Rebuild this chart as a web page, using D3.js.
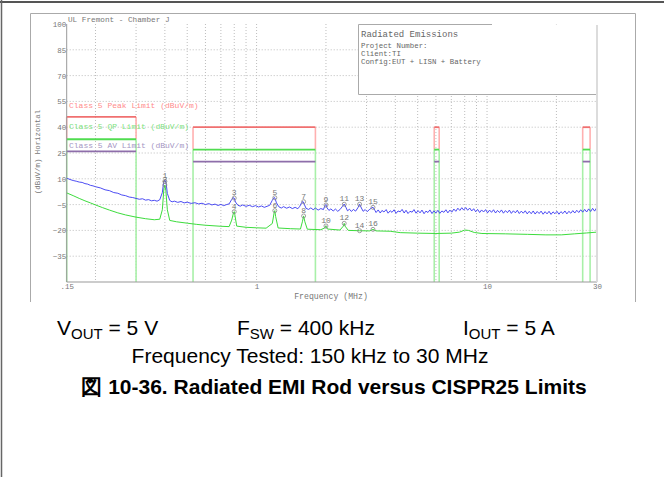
<!DOCTYPE html>
<html>
<head>
<meta charset="utf-8">
<script src="https://cdn.jsdelivr.net/npm/d3@7"></script>
<style>
  body { margin: 0; background: #fff; }
  svg { display: block; }
  .mono { font-family: "Liberation Mono", "DejaVu Sans Mono", monospace; }
</style>
</head>
<body>
<svg id="chart" width="664" height="477"></svg>
<script>
// limit bands (MHz) and CISPR25 class 5 levels (dBuV/m)
var bandStart = [0.15, 0.53, 5.9, 26, 30]
var bandEnd   = [0.30, 1.80, 6.2, 28, 54]
var peakLimit = [46, 40, 40, 40, 40]
var qpLimit   = [33, 27, 27, 27, 27]
var avLimit   = [26, 20, 20, 20, 20]

// axis ticks
var yTicks = [100, 85, 70, 55, 40, 25, 10, -5, -20, -35]
var xTicks = [0.15, 1, 10, 30]
var xTickLabels = [".15", "1", "10", "30"]
var xGrid = [0.2, 0.3, 0.4, 0.5, 0.6, 0.7, 0.8, 0.9, 1, 2, 3, 4, 5, 6, 7, 8, 9, 10, 20]

// peak detector trace (blue), [MHz, dBuV/m]
var peakTrace = [
  [0.150,10.4],[0.155,9.6],[0.160,9.0],[0.165,8.6],[0.170,8.1],[0.175,7.9],[0.180,7.2],[0.185,6.9],
  [0.190,6.2],[0.195,5.9],[0.200,5.4],[0.210,4.7],[0.220,3.6],[0.230,3.1],[0.240,2.0],[0.250,1.6],
  [0.260,0.6],[0.270,0.2],[0.280,-0.6],[0.290,-0.9],[0.300,-1.4],[0.310,-1.9],[0.320,-1.6],[0.330,-2.4],
  [0.340,-2.1],[0.350,-2.8],[0.360,-2.5],[0.370,-3.0],[0.380,-2.2],[0.390,2.0],[0.395,8.0],[0.400,9.2],
  [0.405,7.5],[0.410,1.5],[0.420,-2.6],[0.430,-3.4],[0.440,-3.0],[0.455,-3.7],[0.470,-3.2],[0.485,-4.0],
  [0.500,-3.6],[0.520,-4.3],[0.540,-3.9],[0.560,-4.6],[0.580,-4.2],[0.600,-5.0],[0.620,-4.4],[0.640,-5.2],
  [0.660,-4.7],[0.680,-5.5],[0.700,-4.9],[0.720,-5.6],[0.740,-5.0],[0.760,-4.6],[0.780,-2.0],[0.790,-1.0],
  [0.800,-1.3],[0.810,-3.5],[0.830,-5.4],[0.850,-5.9],[0.870,-5.2],[0.900,-6.0],[0.930,-5.4],[0.960,-6.2],
  [0.990,-5.6],[1.020,-6.4],[1.050,-5.8],[1.080,-6.6],[1.110,-6.0],[1.140,-5.4],[1.170,-2.5],[1.190,-0.9],
  [1.200,-1.1],[1.220,-4.0],[1.250,-6.3],[1.280,-7.0],[1.310,-6.2],[1.350,-7.1],[1.390,-6.4],[1.430,-7.3],
  [1.470,-6.6],[1.510,-7.4],[1.540,-6.0],[1.570,-3.8],[1.590,-3.2],[1.610,-4.8],[1.640,-7.2],[1.680,-7.8],
  [1.720,-6.9],[1.760,-8.0],[1.800,-7.0],[1.850,-8.2],[1.900,-7.3],[1.950,-7.9],[1.980,-5.6],[2.000,-5.0],
  [2.020,-6.8],[2.060,-8.4],[2.100,-7.5],[2.150,-8.7],[2.200,-7.6],[2.250,-8.9],[2.300,-7.9],[2.360,-6.0],
  [2.400,-4.7],[2.440,-6.5],[2.480,-8.6],[2.530,-7.7],[2.580,-9.0],[2.630,-7.8],[2.690,-8.8],[2.750,-6.9],
  [2.800,-4.8],[2.850,-7.0],[2.900,-8.9],[2.960,-7.9],[3.020,-9.1],[3.080,-8.0],[3.150,-7.0],[3.200,-6.5],
  [3.260,-8.3],[3.300,-9.6],[3.370,-8.1],[3.440,-9.9],[3.500,-8.4],[3.570,-9.3],[3.650,-7.9],[3.720,-10.0],
  [3.800,-8.6],[3.870,-9.5],[3.950,-8.0],[4.030,-10.1],[4.110,-8.7],[4.200,-9.2],[4.280,-7.8],[4.370,-9.9],
  [4.450,-8.3],[4.540,-10.2],[4.630,-8.9],[4.730,-9.4],[4.820,-7.9],[4.920,-10.0],[5.020,-8.5],[5.120,-9.8],
  [5.220,-8.2],[5.330,-10.3],[5.430,-8.8],[5.540,-9.6],[5.650,-8.1],[5.770,-10.2],[5.880,-8.6],[6.000,-9.9],
  [6.120,-8.3],[6.240,-10.1],[6.370,-8.7],[6.500,-9.5],[6.630,-8.0],[6.760,-9.8],[6.900,-8.2],[7.030,-9.4],
  [7.180,-7.6],[7.320,-8.9],[7.470,-7.1],[7.620,-8.4],[7.770,-6.8],[7.920,-8.2],[8.080,-6.7],[8.240,-8.3],
  [8.410,-7.0],[8.580,-8.7],[8.750,-7.4],[8.930,-9.2],[9.100,-7.8],[9.290,-9.6],[9.470,-8.1],[9.660,-9.3],
  [9.860,-7.9],[10.05,-9.8],[10.26,-8.2],[10.46,-9.5],[10.67,-8.0],[10.89,-9.9],[11.10,-8.4],[11.33,-9.6],
  [11.55,-8.1],[11.78,-10.0],[12.02,-8.5],[12.26,-9.7],[12.50,-8.2],[12.75,-10.1],[13.01,-8.6],[13.27,-9.8],
  [13.53,-8.3],[13.80,-10.2],[14.08,-8.8],[14.36,-10.0],[14.65,-8.6],[14.94,-10.4],[15.24,-8.9],[15.55,-10.3],
  [15.86,-8.7],[16.17,-10.5],[16.50,-9.0],[16.83,-10.2],[17.16,-8.8],[17.51,-10.6],[17.86,-9.1],[18.21,-10.4],
  [18.58,-8.9],[18.95,-10.7],[19.33,-9.2],[19.71,-10.3],[20.11,-8.9],[20.51,-10.6],[20.92,-9.1],[21.34,-10.2],
  [21.77,-8.7],[22.20,-10.4],[22.64,-8.9],[23.10,-10.0],[23.56,-8.5],[24.03,-9.9],[24.51,-8.3],[25.00,-9.6],
  [25.50,-8.0],[26.01,-9.4],[26.53,-7.8],[27.06,-9.3],[27.60,-7.5],[28.15,-9.0],[28.72,-7.2],[29.29,-8.8],
  [29.88,-6.9],[30.00,-8.0]
]

// average detector trace (green), [MHz, dBuV/m]
var avgTrace = [
  [0.150,1.8],[0.160,0.2],[0.170,-1.4],[0.180,-2.8],[0.190,-4.0],[0.200,-5.2],[0.215,-6.8],[0.230,-8.2],
  [0.250,-9.8],[0.270,-11.0],[0.300,-12.3],[0.330,-13.2],[0.360,-13.8],[0.380,-13.5],[0.390,-8.0],
  [0.396,4.0],[0.400,6.4],[0.404,3.0],[0.410,-8.0],[0.420,-14.2],[0.450,-15.0],[0.500,-15.8],[0.550,-16.5],
  [0.600,-17.0],[0.700,-17.6],[0.760,-17.8],[0.780,-14.0],[0.795,-9.5],[0.800,-9.1],[0.805,-11.0],
  [0.820,-17.5],[0.900,-18.2],[1.000,-18.5],[1.100,-18.7],[1.170,-16.0],[1.195,-8.8],[1.200,-8.5],
  [1.210,-12.0],[1.240,-18.6],[1.400,-19.0],[1.550,-19.2],[1.580,-15.0],[1.600,-11.6],[1.620,-15.0],
  [1.660,-19.3],[1.900,-19.6],[1.980,-18.5],[2.000,-17.4],[2.030,-19.2],[2.300,-19.8],[2.380,-17.5],
  [2.400,-15.9],[2.420,-17.5],[2.500,-20.0],[2.800,-20.2],[3.100,-20.3],[3.200,-19.4],[3.300,-20.3],
  [3.800,-20.5],[4.200,-21.3],[5.000,-21.6],[6.000,-21.8],[7.000,-21.6],[7.600,-21.0],[8.000,-19.8],
  [8.300,-20.0],[8.800,-21.2],[9.500,-21.8],[12.00,-22.0],[15.00,-22.3],[18.00,-22.6],[21.00,-22.6],
  [24.00,-22.0],[27.00,-21.5],[30.00,-21.0]
]

// markers
var markerFreq  = [0.4, 0.4, 0.8, 0.8, 1.2, 1.2, 1.6, 1.6, 2.0, 2.0, 2.4, 2.4, 2.8, 2.8, 3.2, 3.2]
var markerLevel = [8.5, 6.4, -1.2, -9.1, -1.0, -8.5, -3.3, -11.6, -5.2, -17.4, -4.8, -15.9, -4.8, -20.2, -6.6, -19.4]

var legendNames = ["Class 5 Peak Limit (dBuV/m)", "Class 5 QP Limit (dBuV/m)", "Class 5 AV Limit (dBuV/m)"]
var infoLines = ["Project Number:", "Client:TI", "Config:EUT + LISN + Battery"]

var svg = d3.select("#chart")

var x = d3.scaleLog().domain([0.15, 30]).range([66.7, 597])
var y = d3.scaleLinear().domain([-50, 100]).range([282, 24])

// outer page frame
svg.append("line").attr("x1", 0).attr("x2", 664).attr("y1", 2).attr("y2", 2)
  .attr("stroke", "#555").attr("stroke-width", 2)
svg.append("line").attr("x1", 1.5).attr("x2", 1.5).attr("y1", 0).attr("y2", 477)
  .attr("stroke", "#666").attr("stroke-width", 1.5)

// plot window frame
svg.append("path").attr("d", "M30.5,302V13.5H635.5V302")
  .attr("fill", "none").attr("stroke", "#aaa")

// grid
svg.append("g").selectAll("line").data(xGrid).enter().append("line")
  .attr("x1", function(d){ return x(d) }).attr("x2", function(d){ return x(d) })
  .attr("y1", y(100)).attr("y2", y(-50))
  .attr("stroke", "#bdbdbd").attr("stroke-dasharray", "1,2")
svg.append("g").selectAll("line").data(yTicks.slice(1)).enter().append("line")
  .attr("x1", x(0.15)).attr("x2", x(30))
  .attr("y1", function(d){ return y(d) }).attr("y2", function(d){ return y(d) })
  .attr("stroke", "#bdbdbd").attr("stroke-dasharray", "1,2")

// limit lines
svg.append("clipPath").attr("id", "plotclip").append("rect")
  .attr("x", 60).attr("y", 20).attr("width", 538).attr("height", 263)
var lim = svg.append("g").attr("clip-path", "url(#plotclip)")
bandStart.forEach(function(f0, i){
  var f1 = bandEnd[i]
  ;[f0, f1].forEach(function(f){
    lim.append("line").attr("x1", x(f)).attr("x2", x(f))
      .attr("y1", y(peakLimit[i])).attr("y2", y(qpLimit[i]))
      .attr("stroke", "#ffb0b0").attr("stroke-width", 1.6)
    lim.append("line").attr("x1", x(f)).attr("x2", x(f))
      .attr("y1", y(qpLimit[i])).attr("y2", y(-50))
      .attr("stroke", "#a8f0a8").attr("stroke-width", 1.6)
  })
  lim.append("line").attr("x1", x(f0)).attr("x2", x(f1))
    .attr("y1", y(peakLimit[i])).attr("y2", y(peakLimit[i]))
    .attr("stroke", "#f07070").attr("stroke-width", 1.8)
  lim.append("line").attr("x1", x(f0)).attr("x2", x(f1))
    .attr("y1", y(qpLimit[i])).attr("y2", y(qpLimit[i]))
    .attr("stroke", "#50dc50").attr("stroke-width", 1.8)
  lim.append("line").attr("x1", x(f0)).attr("x2", x(f1))
    .attr("y1", y(avLimit[i])).attr("y2", y(avLimit[i]))
    .attr("stroke", "#8e6eaa").attr("stroke-width", 1.8)
})

// legend texts
var legendColor = ["#ff8c8c", "#7ee27e", "#a596c4"]
var legendY = [108, 129, 148]
svg.selectAll("legendtxt").data(legendNames).enter().append("text")
  .attr("class", "mono")
  .attr("x", 69).attr("y", function(d, i){ return legendY[i] })
  .attr("font-size", 8).attr("fill", function(d, i){ return legendColor[i] })
  .text(function(d){ return d })

// traces
var line = d3.line().x(function(d){ return x(d[0]) }).y(function(d){ return y(d[1]) })
svg.append("path").datum(avgTrace).attr("d", line)
  .attr("fill", "none").attr("stroke", "#3ddc3d").attr("stroke-width", 1)
svg.append("path").datum(peakTrace).attr("d", line)
  .attr("fill", "none").attr("stroke", "#3838f2").attr("stroke-width", 0.9)

// info box (white, covers grid)
svg.append("rect").attr("x", 358.5).attr("y", 24.5).attr("width", 238).attr("height", 69.5)
  .attr("fill", "#fff")
svg.append("path").attr("d", "M492,24.5H358.5V94.5H597")
  .attr("fill", "none").attr("stroke", "#aaa")
svg.append("text").attr("class", "mono").attr("x", 361).attr("y", 37)
  .attr("font-size", 9).attr("fill", "#666").text("Radiated Emissions")
svg.selectAll("infotxt").data(infoLines).enter().append("text")
  .attr("class", "mono")
  .attr("x", 361).attr("y", function(d, i){ return 47.5 + i*8 })
  .attr("font-size", 7.4).attr("fill", "#666")
  .text(function(d){ return d })

// axes lines
svg.append("path").attr("d", "M" + x(0.15) + "," + y(100) + "V" + y(-50) + "H" + x(30))
  .attr("fill", "none").attr("stroke", "#999")
svg.append("line").attr("x1", x(30)).attr("x2", x(30)).attr("y1", 25).attr("y2", y(-50))
  .attr("stroke", "#dcdcdc").attr("stroke-width", 2)

// y tick labels
var yAxis = svg.append("g").attr("transform", "translate(" + (x(0.15) + 0.5) + ",0)")
  .call(d3.axisLeft(y).tickValues(yTicks).tickSize(0).tickPadding(1))
yAxis.select(".domain").remove()
yAxis.selectAll("text").attr("class", "mono").attr("font-size", 7.5).attr("fill", "#777")

// x tick labels
var xAxis = svg.append("g").attr("transform", "translate(0," + (y(-50) + 1) + ")")
  .call(d3.axisBottom(x).tickValues(xTicks).tickSize(0).tickPadding(1)
    .tickFormat(function(d, i){ return xTickLabels[i] }))
xAxis.select(".domain").remove()
xAxis.selectAll("text").attr("class", "mono").attr("font-size", 7.5).attr("fill", "#777")

// axis titles
svg.append("text").attr("class", "mono").attr("x", 331).attr("y", 299)
  .attr("text-anchor", "middle").attr("font-size", 8.2).attr("fill", "#777")
  .text("Frequency (MHz)")
svg.append("text").attr("class", "mono")
  .attr("transform", "translate(40,152) rotate(-90)")
  .attr("text-anchor", "middle").attr("font-size", 7.4).attr("fill", "#777")
  .text("(dBuV/m) Horizontal")
svg.append("text").attr("class", "mono").attr("x", 68).attr("y", 22)
  .attr("font-size", 7.7).attr("fill", "#777").text("UL Fremont - Chamber J")

// markers
var mk = svg.append("g")
mk.selectAll("circle").data(markerFreq).enter().append("circle")
  .attr("cx", function(d){ return x(d) })
  .attr("cy", function(d, i){ return y(markerLevel[i]) })
  .attr("r", 2).attr("fill", "none").attr("stroke", "#888").attr("stroke-width", 0.8)
mk.selectAll("text").data(markerFreq).enter().append("text")
  .attr("class", "mono")
  .attr("x", function(d){ return x(d) })
  .attr("y", function(d, i){ return y(markerLevel[i]) - 3 })
  .attr("text-anchor", "middle").attr("font-size", 8).attr("fill", "#777")
  .text(function(d, i){ return i + 1 })

// notes under the chart
var notes = svg.append("g").attr("font-family", "'Liberation Sans', Arial, sans-serif")
  .attr("font-size", 21).attr("fill", "#000")
var n1 = notes.append("text").attr("x", 57).attr("y", 335)
n1.append("tspan").text("V")
n1.append("tspan").attr("font-size", 15).attr("dy", 4).text("OUT")
n1.append("tspan").attr("dy", -4).text(" = 5 V")
var n2 = notes.append("text").attr("x", 237).attr("y", 335)
n2.append("tspan").text("F")
n2.append("tspan").attr("font-size", 15).attr("dy", 4).text("SW")
n2.append("tspan").attr("dy", -4).text(" = 400 kHz")
var n3 = notes.append("text").attr("x", 463).attr("y", 335)
n3.append("tspan").text("I")
n3.append("tspan").attr("font-size", 15).attr("dy", 4).text("OUT")
n3.append("tspan").attr("dy", -4).text(" = 5 A")
notes.append("text").attr("x", 310).attr("y", 363).attr("text-anchor", "middle")
  .text("Frequency Tested: 150 kHz to 30 MHz")
notes.append("text").attr("x", 334).attr("y", 394).attr("text-anchor", "middle")
  .attr("font-weight", "bold")
  .text("図 10-36. Radiated EMI Rod versus CISPR25 Limits")
</script>
</body>
</html>
